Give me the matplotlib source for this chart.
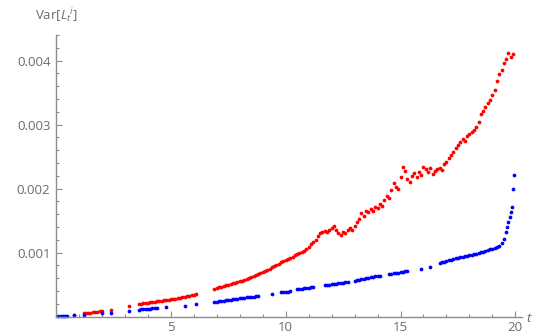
import numpy as np
import matplotlib.pyplot as plt
from matplotlib.ticker import MultipleLocator, FormatStrFormatter

# time grid pieces (points missing in the original are left out)
red_t = np.concatenate([
    [0.8],
    np.arange(1.2, 2.05, 0.1),
    [2.4, 3.2],
    np.arange(3.6, 6.15, 0.1),
    np.arange(6.9, 19.95, 0.1),
])
# Var values in units of 1e-4
red_v = np.array([
    0.3,
    0.5, 0.55, 0.6, 0.65, 0.7, 0.75, 0.8, 0.85, 0.9,
    1.1, 1.6,
    2.0, 2.05, 2.1, 2.15, 2.2, 2.25, 2.3, 2.35, 2.4, 2.45,
    2.5, 2.55, 2.6, 2.65, 2.7, 2.76, 2.82, 2.88, 2.95, 3.02,
    3.1, 3.18, 3.26, 3.34, 3.42, 3.5,
    4.4, 4.5, 4.6, 4.7, 4.8, 4.9, 5.0, 5.1, 5.2, 5.3,
    5.4, 5.5, 5.6, 5.75, 5.9, 6.05, 6.2, 6.4, 6.55, 6.7,
    6.85, 7.0, 7.2, 7.35, 7.5, 7.7, 7.85, 8.05, 8.25, 8.5,
    8.7, 8.85, 9.0, 9.2, 9.4, 9.6, 9.8, 10.0, 10.1, 10.3,
    10.6, 10.9, 11.3, 11.6, 12.0, 12.6, 13.0, 13.2, 13.4, 13.3,
    13.6, 13.8, 14.2, 13.6, 13.0, 12.8, 13.2, 13.0, 13.5, 13.9,
    13.6, 14.2, 14.8, 15.3, 16.2, 15.8, 16.5, 16.3, 16.8, 16.5,
    17.2, 17.0, 17.6, 17.3, 18.2, 18.8, 18.6, 19.8, 20.9, 20.2,
    20.0, 21.8, 23.4, 22.8, 21.5, 21.0, 22.0, 22.4, 21.8, 22.6,
    22.2, 23.4, 23.0, 22.6, 23.2, 22.3, 22.8, 23.0, 23.3, 22.9,
    23.8, 24.2, 24.8, 25.2, 25.8, 26.3, 26.8, 27.3, 27.8, 27.5,
    28.2, 28.6, 28.8, 29.2, 29.6, 30.4, 31.6, 32.2, 32.8, 33.4,
    33.8, 34.6, 35.4, 36.8, 37.9, 38.6, 39.6, 40.2, 41.2, 40.6,
    41.0,
])

blue_t = np.concatenate([
    [0.1, 0.2, 0.3, 0.4, 0.5, 0.8, 1.2, 2.0, 2.4, 3.2],
    np.arange(3.6, 4.45, 0.1),
    [4.8, 5.6, 6.1],
    np.arange(6.9, 8.85, 0.1),
    [9.4],
    np.arange(9.8, 10.25, 0.1),
    np.arange(10.5, 11.25, 0.1),
    np.arange(11.7, 12.75, 0.1),
    np.arange(13.0, 14.15, 0.1),
    np.arange(14.5, 15.35, 0.1),
    [15.9, 16.3],
    np.arange(16.7, 19.45, 0.1),
    [19.5, 19.6, 19.65, 19.7, 19.75, 19.8, 19.85, 19.9, 19.95],
])
blue_v = np.array([
    0.05, 0.06, 0.08, 0.1, 0.12, 0.2, 0.3, 0.5, 0.6, 0.9,
    1.1, 1.15, 1.2, 1.22, 1.25, 1.28, 1.32, 1.36, 1.4,
    1.45, 1.7, 2.0,
    2.3, 2.35, 2.4, 2.45, 2.5, 2.55, 2.6, 2.65, 2.7, 2.75,
    2.8, 2.85, 2.9, 2.95, 3.0, 3.05, 3.1, 3.15, 3.2, 3.25,
    3.55,
    3.78, 3.83, 3.88, 3.93, 3.98,
    4.3, 4.35, 4.4, 4.45, 4.5, 4.55, 4.6, 4.65,
    4.9, 4.95, 5.0, 5.05, 5.1, 5.15, 5.2, 5.25, 5.3, 5.35, 5.4,
    5.6, 5.7, 5.8, 5.9, 5.95, 6.0, 6.1, 6.2, 6.25, 6.3, 6.35, 6.4,
    6.6, 6.7, 6.8, 6.85, 6.9, 7.0, 7.05, 7.1, 7.15,
    7.5, 7.8,
    8.4, 8.5, 8.6, 8.7, 8.8, 8.9, 9.0, 9.1, 9.15, 9.25,
    9.35, 9.45, 9.5, 9.6, 9.7, 9.8, 9.85, 9.95, 10.05, 10.15,
    10.25, 10.35, 10.5, 10.6, 10.75, 10.9, 11.1, 11.5,
    12.2, 13.2, 14.0, 14.8, 15.6, 16.3, 17.2, 20.0, 22.1,
])

axis_col = "#8c8c8c"
text_col = "#6b6b6b"

plt.rcParams["font.family"] = ["Open Sans", "DejaVu Sans"]
plt.rcParams["mathtext.fontset"] = "custom"
plt.rcParams["mathtext.rm"] = "Open Sans"
plt.rcParams["mathtext.it"] = "Open Sans:italic"

fig = plt.figure(figsize=(5.36, 3.34), dpi=100)
ax = fig.add_axes([56 / 536, (334 - 316.7) / 334, 466 / 536, (316.7 - 35) / 334])

ax.plot(red_t, red_v * 1e-4, "o", color="#ff0000", ms=2.7, mew=0, clip_on=False)
ax.plot(blue_t, blue_v * 1e-4, "o", color="#0000ff", ms=2.7, mew=0, clip_on=False)

ax.set_xlim(0, 20.29)
ax.set_ylim(0, 0.0044)

for s in ["top", "right"]:
    ax.spines[s].set_visible(False)
for s in ["left", "bottom"]:
    ax.spines[s].set_color(axis_col)
    ax.spines[s].set_linewidth(1.0)

ax.xaxis.set_major_locator(MultipleLocator(5))
ax.xaxis.set_minor_locator(MultipleLocator(1))
ax.yaxis.set_major_locator(MultipleLocator(0.001))
ax.yaxis.set_minor_locator(MultipleLocator(0.0002))
ax.yaxis.set_major_formatter(FormatStrFormatter("%.3f"))

ax.tick_params(which="both", direction="in", color=axis_col, labelcolor=text_col,
               labelsize=9.5)
ax.tick_params(which="major", length=4, width=0.8)
ax.tick_params(which="minor", length=2.5, width=0.8)
ax.tick_params(axis="x", pad=3)
ax.tick_params(axis="y", pad=4)

xt = ax.get_xticks()
ax.set_xticks([v for v in xt if v > 0 and v <= 20])
yt = ax.get_yticks()
ax.set_yticks([v for v in yt if v > 0 and v <= 0.0044])

fig.text(56 / 536, 1 - 16 / 334, r"Var$[{L_t}^{i}]$", color=text_col,
         fontsize=9.5, ha="center", va="center")
fig.text(526 / 536, 1 - 318 / 334, r"$t$", color=text_col, fontsize=9.5,
         ha="left", va="center")

plt.savefig("out.png", dpi=100)
